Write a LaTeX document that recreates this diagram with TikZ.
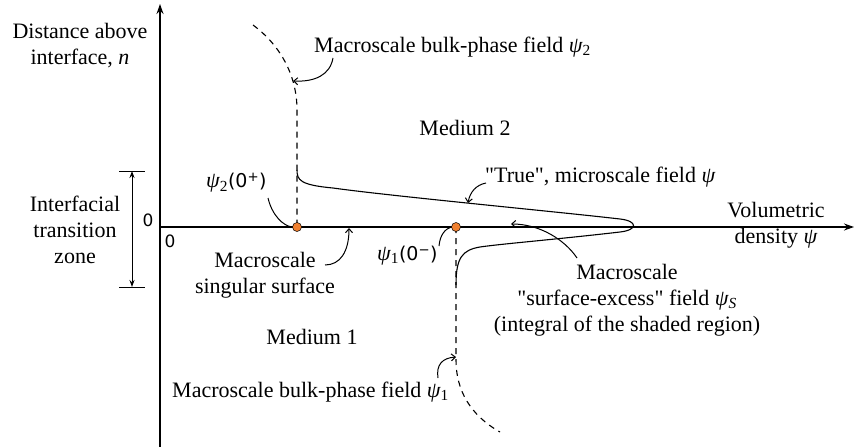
\documentclass[tikz,border=0pt]{standalone}
\usepackage{fontspec}
\setmainfont{Liberation Serif}[Ligatures=TeXOff]
\newfontfamily\zerofont{DejaVu Sans}
\usetikzlibrary{arrows.meta}
\definecolor{dotorange}{RGB}{240,128,48}
\newcommand{\psiit}{{\itshape ψ}}
\newcommand{\dq}{\symbol{34}}
\newcommand{\zs}[1]{{\zerofont\fontsize{19}{22}\selectfont #1}}
\begin{document}
\begin{tikzpicture}[x=1pt,y=-1pt,
  lbl/.style={font=\fontsize{22}{26}\selectfont, inner sep=0pt, align=center},
  zero/.style={font=\zerofont\fontsize{17}{20}\selectfont, inner sep=0pt},
  axis/.style={line width=1.3pt, -{Stealth[length=10pt,width=7pt]}},
  curve/.style={line width=1.1pt},
  dashedline/.style={line width=1.1pt, dash pattern=on 6pt off 5pt},
  pointer/.style={line width=1pt, -{Straight Barb[length=4pt,width=7pt]}},
  plainptr/.style={line width=1pt},
  dim/.style={line width=1pt, {Stealth[length=7pt,width=5pt]}-{Stealth[length=7pt,width=5pt]}},
  tick/.style={line width=1pt},
  dot/.style={circle, fill=dotorange, draw=black, line width=0.5pt, minimum size=9pt, inner sep=0pt}]
\path[use as bounding box] (0,0) rectangle (854,447);

% axes
\coordinate (ybot) at (160,447);
\coordinate (ytop) at (160,4);
\coordinate (xstart) at (160,227);
\coordinate (xend) at (854,227);
\draw[axis] (ybot) -- (ytop);
\draw[axis] (xstart) -- (xend);

% dashed macroscale bulk fields
\coordinate (d2top) at (253,25);
\coordinate (d2mid) at (297,110);
\coordinate (d2bot) at (297,227);
\draw[dashedline] (d2top) .. controls (280,45) and (297,75) .. (d2mid) -- (d2bot);
\coordinate (d1top) at (456,227);
\coordinate (d1mid) at (456,360);
\coordinate (d1bot) at (500,432);
\draw[dashedline] (d1top) -- (d1mid) .. controls (456,390) and (470,415) .. (d1bot);

% true microscale field
\coordinate (s1) at (297,170);
\coordinate (s2) at (333,188);
\coordinate (s3) at (620,219);
\coordinate (s4) at (620,232);
\coordinate (s5) at (480,247);
\coordinate (s6) at (456,285);
\draw[curve] (s1) .. controls (297,180) and (300,185) .. (s2)
  .. controls (390,196) and (560,212) .. (s3)
  .. controls (638,221) and (638,230) .. (s4)
  .. controls (560,239) and (500,244) .. (s5)
  .. controls (462,250) and (456,258) .. (s6);

% orange dots
\node[dot] (p2) at (297,227) {};
\node[dot] (p1) at (456,227) {};

% interfacial transition zone dimension
\coordinate (zt) at (132,171);
\coordinate (zb) at (132,287);
\coordinate (ztl) at (119,171);
\coordinate (ztr) at (145,171);
\coordinate (zbl) at (119,287);
\coordinate (zbr) at (145,287);
\draw[tick] (ztl) -- (ztr);
\draw[tick] (zbl) -- (zbr);
\draw[dim] (zb) -- (zt);

% labels
\node[lbl] (ylab) at (80,46) {Distance above\\interface, {\itshape n}};
\node[lbl] (zone) at (75,230) {Interfacial\\transition\\zone};
\node[zero] (z0a) at (148,220) {0};
\node[zero] (z0b) at (170,241) {0};
\node[lbl, anchor=west] (bulk2) at (314,47) {Macroscale bulk-phase field \psiit\textsubscript{2}};
\node[lbl] (med2) at (465,128) {Medium 2};
\node[lbl, anchor=west] (psi2z) at (206,183) {\psiit\textsubscript{2}\zs{(0\textsuperscript{+})}};
\node[lbl, anchor=west] (true) at (485,177) {\dq True\dq, microscale field \psiit};
\node[lbl] (vol) at (776,225) {Volumetric\\density \psiit};
\node[lbl, anchor=west] (psi1z) at (377,256) {\psiit\textsubscript{1}\zs{(0\textsuperscript{−})}};
\node[lbl] (sing) at (265,275) {Macroscale\\singular surface};
\node[lbl] (excess) at (627,300) {Macroscale\\\dq surface-excess\dq\ field \psiit\textsubscript{\itshape S}\\(integral of the shaded region)};
\node[lbl] (med1) at (312,337) {Medium 1};
\node[lbl, anchor=west] (bulk1) at (172,392) {Macroscale bulk-phase field \psiit\textsubscript{1}};

% pointers
\coordinate (a2s) at (333,58);
\coordinate (a2e) at (293,81);
\draw[pointer] (a2s) .. controls (330,75) and (315,82) .. (a2e);
\coordinate (a0s) at (268,198);
\draw[plainptr] (a0s) .. controls (272,215) and (283,226) .. (p2.west);
\coordinate (ass) at (325,265);
\coordinate (ase) at (349,228);
\draw[pointer] (ass) .. controls (340,265) and (349,252) .. (ase);
\coordinate (a1s) at (439,246);
\draw[plainptr] (a1s) .. controls (440,235) and (445,229) .. (p1.west);
\coordinate (ats) at (486,183);
\coordinate (ate) at (468,203);
\draw[pointer] (ats) .. controls (476,185) and (470,192) .. (ate);
\coordinate (aes) at (577,258);
\coordinate (aee) at (511,224);
\draw[pointer] (aes) .. controls (565,240) and (540,224) .. (aee);
\coordinate (abs) at (438,378);
\coordinate (abe) at (456,357);
\draw[pointer] (abs) .. controls (436,365) and (442,358) .. (abe);
\end{tikzpicture}
\end{document}
